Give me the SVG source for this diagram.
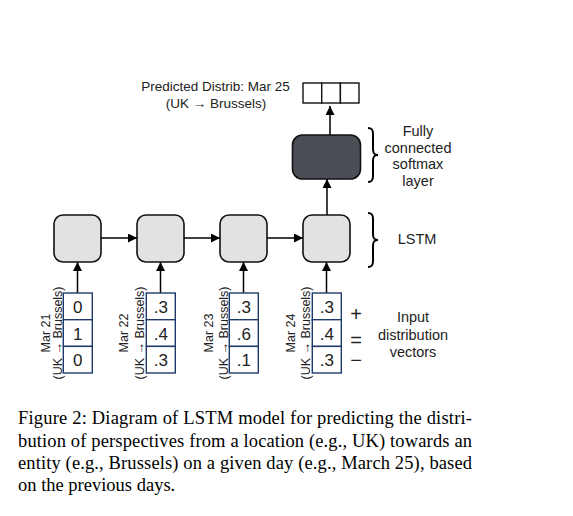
<svg xmlns="http://www.w3.org/2000/svg" width="573" height="516" viewBox="0 0 573 516">
<style>
.lbl{font-family:"Liberation Sans",Arial,sans-serif;fill:#222;}
.cap{font-family:"Liberation Serif","Times New Roman",serif;font-size:18.5px;fill:#000;}
.lstm{fill:#e2e2e2;stroke:#111;stroke-width:1.6;}
.fc{fill:#4b4e55;stroke:#111;stroke-width:1.6;}
.vec{fill:#fff;stroke:#1f3a68;stroke-width:1.4;}
.out{fill:#fff;stroke:#111;stroke-width:1.4;}
.num{font-family:"Liberation Sans",Arial,sans-serif;font-size:17px;fill:#222;text-anchor:middle;}
.rot{font-family:"Liberation Sans",Arial,sans-serif;font-size:12.5px;fill:#222;text-anchor:middle;}
.arr{stroke:#000;stroke-width:1.5;fill:none;marker-end:url(#ah);}
.brace{stroke:#000;stroke-width:2;fill:none;}
</style>
<defs>
<marker id="ah" viewBox="0 0 10 10" refX="10" refY="5" markerWidth="6" markerHeight="6" markerUnits="strokeWidth" orient="auto">
<path d="M0,0 L10,5 L0,10 z" fill="#000"/>
</marker>
</defs>

<g id="connectors">
<line class="arr" x1="101" y1="238" x2="137" y2="238"/>
<line class="arr" x1="184" y1="238" x2="220" y2="238"/>
<line class="arr" x1="267" y1="238" x2="303" y2="238"/>
<line class="arr" x1="77.5" y1="293" x2="77.5" y2="262"/>
<line class="arr" x1="160.5" y1="293" x2="160.5" y2="262"/>
<line class="arr" x1="243.5" y1="293" x2="243.5" y2="262"/>
<line class="arr" x1="326.5" y1="293" x2="326.5" y2="262"/>
<line class="arr" x1="327" y1="215" x2="327" y2="179"/>
<line class="arr" x1="330" y1="135" x2="330" y2="106"/>
</g>

<g id="lstm1"><rect class="lstm" x="54" y="215" width="47" height="47" rx="9"/></g>
<g id="lstm2"><rect class="lstm" x="137" y="215" width="47" height="47" rx="9"/></g>
<g id="lstm3"><rect class="lstm" x="220" y="215" width="47" height="47" rx="9"/></g>
<g id="lstm4"><rect class="lstm" x="303" y="215" width="47" height="47" rx="9"/></g>

<g id="fc"><rect class="fc" x="292.5" y="135" width="68" height="44" rx="10"/></g>

<g id="output">
<rect class="out" x="303" y="83" width="18.7" height="20"/>
<rect class="out" x="321.7" y="83" width="18.7" height="20"/>
<rect class="out" x="340.4" y="83" width="18.6" height="20"/>
<text class="lbl" x="215.5" y="91" font-size="13.5" text-anchor="middle">Predicted Distrib: Mar 25</text>
<text class="lbl" x="216" y="108" font-size="13.5" text-anchor="middle">(UK → Brussels)</text>
</g>

<g id="vec1">
<rect class="vec" x="63.3" y="293" width="29" height="26.7"/>
<rect class="vec" x="63.3" y="319.7" width="29" height="26.7"/>
<rect class="vec" x="63.3" y="346.4" width="29" height="26.6"/>
<text class="num" x="77.8" y="313">0</text>
<text class="num" x="77.8" y="339.5">1</text>
<text class="num" x="77.8" y="366">0</text>
<text class="rot" transform="translate(49.5,333) rotate(-90)">Mar 21</text>
<text class="rot" transform="translate(61.5,333) rotate(-90)">(UK → Brussels)</text>
</g>

<g id="vec2">
<rect class="vec" x="146.3" y="293" width="29" height="26.7"/>
<rect class="vec" x="146.3" y="319.7" width="29" height="26.7"/>
<rect class="vec" x="146.3" y="346.4" width="29" height="26.6"/>
<text class="num" x="160.8" y="313">.3</text>
<text class="num" x="160.8" y="339.5">.4</text>
<text class="num" x="160.8" y="366">.3</text>
<text class="rot" transform="translate(127.5,333) rotate(-90)">Mar 22</text>
<text class="rot" transform="translate(143.5,333) rotate(-90)">(UK → Brussels)</text>
</g>

<g id="vec3">
<rect class="vec" x="229.3" y="293" width="29" height="26.7"/>
<rect class="vec" x="229.3" y="319.7" width="29" height="26.7"/>
<rect class="vec" x="229.3" y="346.4" width="29" height="26.6"/>
<text class="num" x="243.8" y="313">.3</text>
<text class="num" x="243.8" y="339.5">.6</text>
<text class="num" x="243.8" y="366">.1</text>
<text class="rot" transform="translate(212.5,333) rotate(-90)">Mar 23</text>
<text class="rot" transform="translate(227.5,333) rotate(-90)">(UK → Brussels)</text>
</g>

<g id="vec4">
<rect class="vec" x="312.3" y="293" width="29" height="26.7"/>
<rect class="vec" x="312.3" y="319.7" width="29" height="26.7"/>
<rect class="vec" x="312.3" y="346.4" width="29" height="26.6"/>
<text class="num" x="326.8" y="313">.3</text>
<text class="num" x="326.8" y="339.5">.4</text>
<text class="num" x="326.8" y="366">.3</text>
<text class="rot" transform="translate(294.5,333) rotate(-90)">Mar 24</text>
<text class="rot" transform="translate(309.5,333) rotate(-90)">(UK → Brussels)</text>
</g>

<g id="signs">
<text class="lbl" x="356" y="320.5" font-size="20" text-anchor="middle">+</text>
<text class="lbl" x="356" y="347" font-size="20" text-anchor="middle">=</text>
<text class="lbl" x="356" y="367" font-size="20" text-anchor="middle">−</text>
</g>

<g id="fc-label">
<path class="brace" d="M368,128 C372,128 373,130 373,134 L373,149 C373,153 374,155 378,155 C374,155 373,157 373,161 L373,176 C373,180 372,182 368,182"/>
<text class="lbl" font-size="14.5" text-anchor="middle"><tspan x="418" y="136">Fully</tspan><tspan x="418" y="152.7">connected</tspan><tspan x="418" y="169.4">softmax</tspan><tspan x="418" y="186">layer</tspan></text>
</g>

<g id="lstm-label">
<path class="brace" d="M368,213 C372,213 373,215 373,219 L373,234 C373,238 374,240 378,240 C374,240 373,242 373,246 L373,261 C373,265 372,267 368,267"/>
<text class="lbl" x="417" y="243.5" font-size="14.5" text-anchor="middle">LSTM</text>
</g>

<g id="input-label">
<text class="lbl" font-size="14.5" text-anchor="middle"><tspan x="413" y="321.5">Input</tspan><tspan x="413" y="339.5">distribution</tspan><tspan x="413" y="357">vectors</tspan></text>
</g>

<g id="caption">
<text class="cap" x="18" y="424" textLength="454" lengthAdjust="spacing">Figure 2: Diagram of LSTM model for predicting the distri-</text>
<text class="cap" x="18" y="446.5" textLength="454" lengthAdjust="spacing">bution of perspectives from a location (e.g., UK) towards an</text>
<text class="cap" x="18" y="469" textLength="454" lengthAdjust="spacing">entity (e.g., Brussels) on a given day (e.g., March 25), based</text>
<text class="cap" x="18" y="491">on the previous days.</text>
</g>
</svg>
